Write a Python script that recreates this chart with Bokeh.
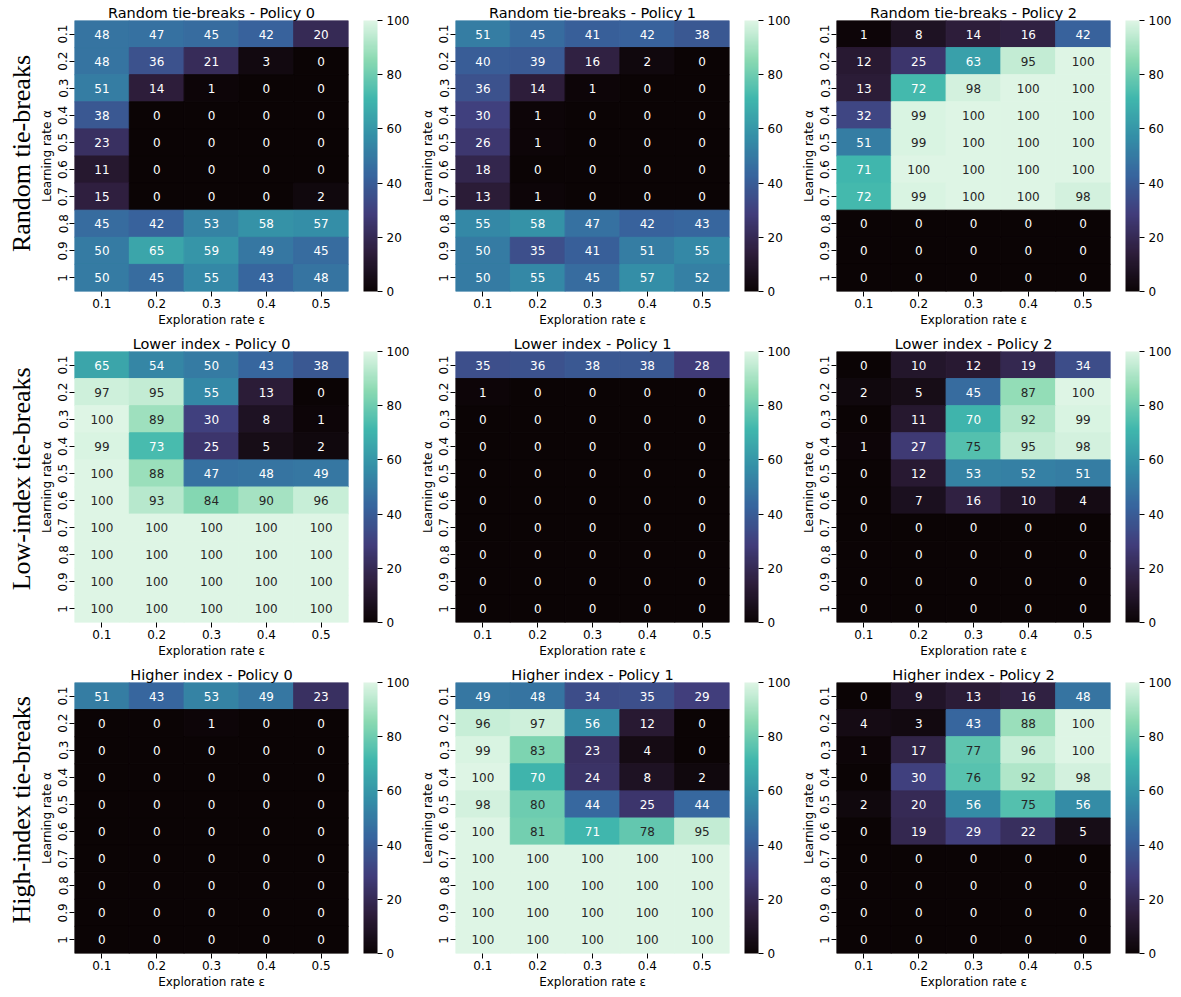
import math
from bokeh.plotting import figure
from bokeh.models import (ColumnDataSource, FactorRange, Range1d, LinearColorMapper,
                          ColorBar, FixedTicker)
from bokeh.layouts import row, column
from bokeh.embed import file_html
from bokeh.resources import INLINE
from bokeh.core.properties import value

# ---------------- data ----------------
eps_labels = ["0.1", "0.2", "0.3", "0.4", "0.5"]
alpha_labels = ["0.1", "0.2", "0.3", "0.4", "0.5", "0.6", "0.7", "0.8", "0.9", "1"]
row_labels = ["Random tie-breaks", "Low-index tie-breaks", "High-index tie-breaks"]
title_prefixes = ["Random tie-breaks", "Lower index", "Higher index"]
policy_names = ["Policy 0", "Policy 1", "Policy 2"]
cb_ticks = [0, 20, 40, 60, 80, 100]

random_p0 = [
    [48, 47, 45, 42, 20],
    [48, 36, 21, 3, 0],
    [51, 14, 1, 0, 0],
    [38, 0, 0, 0, 0],
    [23, 0, 0, 0, 0],
    [11, 0, 0, 0, 0],
    [15, 0, 0, 0, 2],
    [45, 42, 53, 58, 57],
    [50, 65, 59, 49, 45],
    [50, 45, 55, 43, 48],
]
random_p1 = [
    [51, 45, 41, 42, 38],
    [40, 39, 16, 2, 0],
    [36, 14, 1, 0, 0],
    [30, 1, 0, 0, 0],
    [26, 1, 0, 0, 0],
    [18, 0, 0, 0, 0],
    [13, 1, 0, 0, 0],
    [55, 58, 47, 42, 43],
    [50, 35, 41, 51, 55],
    [50, 55, 45, 57, 52],
]
random_p2 = [
    [1, 8, 14, 16, 42],
    [12, 25, 63, 95, 100],
    [13, 72, 98, 100, 100],
    [32, 99, 100, 100, 100],
    [51, 99, 100, 100, 100],
    [71, 100, 100, 100, 100],
    [72, 99, 100, 100, 98],
    [0, 0, 0, 0, 0],
    [0, 0, 0, 0, 0],
    [0, 0, 0, 0, 0],
]
lower_p0 = [
    [65, 54, 50, 43, 38],
    [97, 95, 55, 13, 0],
    [100, 89, 30, 8, 1],
    [99, 73, 25, 5, 2],
    [100, 88, 47, 48, 49],
    [100, 93, 84, 90, 96],
    [100, 100, 100, 100, 100],
    [100, 100, 100, 100, 100],
    [100, 100, 100, 100, 100],
    [100, 100, 100, 100, 100],
]
lower_p1 = [
    [35, 36, 38, 38, 28],
    [1, 0, 0, 0, 0],
    [0, 0, 0, 0, 0],
    [0, 0, 0, 0, 0],
    [0, 0, 0, 0, 0],
    [0, 0, 0, 0, 0],
    [0, 0, 0, 0, 0],
    [0, 0, 0, 0, 0],
    [0, 0, 0, 0, 0],
    [0, 0, 0, 0, 0],
]
lower_p2 = [
    [0, 10, 12, 19, 34],
    [2, 5, 45, 87, 100],
    [0, 11, 70, 92, 99],
    [1, 27, 75, 95, 98],
    [0, 12, 53, 52, 51],
    [0, 7, 16, 10, 4],
    [0, 0, 0, 0, 0],
    [0, 0, 0, 0, 0],
    [0, 0, 0, 0, 0],
    [0, 0, 0, 0, 0],
]
higher_p0 = [
    [51, 43, 53, 49, 23],
    [0, 0, 1, 0, 0],
    [0, 0, 0, 0, 0],
    [0, 0, 0, 0, 0],
    [0, 0, 0, 0, 0],
    [0, 0, 0, 0, 0],
    [0, 0, 0, 0, 0],
    [0, 0, 0, 0, 0],
    [0, 0, 0, 0, 0],
    [0, 0, 0, 0, 0],
]
higher_p1 = [
    [49, 48, 34, 35, 29],
    [96, 97, 56, 12, 0],
    [99, 83, 23, 4, 0],
    [100, 70, 24, 8, 2],
    [98, 80, 44, 25, 44],
    [100, 81, 71, 78, 95],
    [100, 100, 100, 100, 100],
    [100, 100, 100, 100, 100],
    [100, 100, 100, 100, 100],
    [100, 100, 100, 100, 100],
]
higher_p2 = [
    [0, 9, 13, 16, 48],
    [4, 3, 43, 88, 100],
    [1, 17, 77, 96, 100],
    [0, 30, 76, 92, 98],
    [2, 20, 56, 75, 56],
    [0, 19, 29, 22, 5],
    [0, 0, 0, 0, 0],
    [0, 0, 0, 0, 0],
    [0, 0, 0, 0, 0],
    [0, 0, 0, 0, 0],
]
grids = [
    [random_p0, random_p1, random_p2],
    [lower_p0, lower_p1, lower_p2],
    [higher_p0, higher_p1, higher_p2],
]

# ---------------- "mako" colormap ----------------
mako_anchor_hex = ["#0b0405", "#2e1e3c", "#413d7b", "#37659e", "#348fa7",
                   "#40b7ad", "#8bdab2", "#def5e5"]
anchor_pos = [i / (len(mako_anchor_hex) - 1) for i in range(len(mako_anchor_hex))]
anchor_rgb = [tuple(int(h[k:k + 2], 16) for k in (1, 3, 5)) for h in mako_anchor_hex]

def cmap_rgb(t):
    t = min(max(t, 0.0), 1.0)
    for i in range(len(anchor_pos) - 1):
        if t <= anchor_pos[i + 1]:
            f = (t - anchor_pos[i]) / (anchor_pos[i + 1] - anchor_pos[i])
            a, b = anchor_rgb[i], anchor_rgb[i + 1]
            return tuple(a[k] + (b[k] - a[k]) * f for k in range(3))
    return anchor_rgb[-1]

N = 256
palette_rgb = [cmap_rgb(i / (N - 1)) for i in range(N)]
palette = ["#%02x%02x%02x" % tuple(int(round(c)) for c in rgb) for rgb in palette_rgb]

def lum(rgb):
    out = []
    for c in rgb:
        c = c / 255.0
        out.append(c / 12.92 if c <= 0.03928 else ((c + 0.055) / 1.055) ** 2.4)
    return 0.2126 * out[0] + 0.7152 * out[1] + 0.0722 * out[2]

def text_color(v):
    idx = min(int(v / 100.0 * N), N - 1)
    return "#262626" if lum(palette_rgb[idx]) > 0.408 else "#ffffff"

FONT = "DejaVu Sans"
FRAME_W, FRAME_H = 274, 271
B_RIGHT, B_TOP, B_BOTTOM = 64, 20, 40
FIG_H = B_TOP + FRAME_H + B_BOTTOM
LABEL_W = 36
LABEL_SHIFT = [-7, 0, 0]


def make_heatmap(data, title, b_left):
    xs, ys, vals, txt, tcol = [], [], [], [], []
    for i, a in enumerate(alpha_labels):
        for j, e in enumerate(eps_labels):
            v = data[i][j]
            xs.append(e); ys.append(a); vals.append(v)
            txt.append(str(v)); tcol.append(text_color(v))
    src = ColumnDataSource(dict(x=xs, y=ys, v=vals, t=txt, c=tcol))
    mapper = LinearColorMapper(palette=palette, low=0, high=100)

    p = figure(width=b_left + FRAME_W + B_RIGHT, height=FIG_H,
               x_range=FactorRange(factors=eps_labels),
               y_range=FactorRange(factors=alpha_labels[::-1]),
               min_border_left=b_left, min_border_right=B_RIGHT,
               min_border_top=B_TOP, min_border_bottom=B_BOTTOM,
               output_backend="svg", toolbar_location=None, tools="")
    p.rect(x="x", y="y", width=1, height=1, source=src,
           fill_color={"field": "v", "transform": mapper},
           line_color={"field": "v", "transform": mapper}, line_width=1)
    p.text(x="x", y="y", text="t", source=src, text_color="c",
           text_align="center", text_baseline="middle",
           text_font=value(FONT), text_font_size="12px")

    p.title.text = title
    p.title.align = "center"
    p.title.text_font = FONT
    p.title.text_font_style = "normal"
    p.title.text_font_size = "14.5px"
    p.title.text_color = "#000000"
    p.title.standoff = 0

    p.outline_line_color = None
    p.grid.grid_line_color = None
    p.background_fill_color = "white"
    p.border_fill_color = "white"
    for ax in (p.xaxis, p.yaxis):
        ax.axis_line_color = None
        ax.major_tick_in = 0
        ax.major_tick_out = 5
        ax.major_tick_line_color = "#000000"
        ax.minor_tick_line_color = None
        ax.major_label_text_font = FONT
        ax.major_label_text_font_size = "12px"
        ax.major_label_text_color = "#000000"
        ax.major_label_standoff = 2
        ax.axis_label_text_font = FONT
        ax.axis_label_text_font_size = "12px"
        ax.axis_label_text_font_style = "normal"
        ax.axis_label_text_color = "#000000"
        ax.axis_label_standoff = 2
    p.yaxis.major_label_orientation = "vertical"
    p.xaxis.axis_label = "Exploration rate ε"
    p.yaxis.axis_label = "Learning rate α"

    cb = ColorBar(color_mapper=mapper, ticker=FixedTicker(ticks=cb_ticks),
                  width=14, height=FRAME_H, location=(15, 0),
                  margin=0, padding=0,
                  major_tick_in=0, major_tick_out=5,
                  major_tick_line_color="#000000",
                  minor_tick_line_color=None,
                  bar_line_color=None, border_line_color=None,
                  background_fill_color=None,
                  label_standoff=4,
                  major_label_text_font=FONT,
                  major_label_text_font_size="12px",
                  major_label_text_color="#000000")
    p.add_layout(cb, "right")
    return p


def make_row_label(text, shift):
    p = figure(width=LABEL_W, height=FIG_H,
               x_range=Range1d(0, LABEL_W), y_range=Range1d(0, FIG_H),
               x_axis_type=None, y_axis_type=None,
               min_border=0, min_border_left=0, min_border_right=0,
               min_border_top=0, min_border_bottom=0,
               output_backend="svg", toolbar_location=None, tools="")
    p.outline_line_color = None
    p.grid.grid_line_color = None
    src = ColumnDataSource(dict(x=[21.0], y=[B_BOTTOM + FRAME_H / 2.0 + shift], t=[text]))
    p.text(x="x", y="y", text="t", source=src, angle=math.pi / 2,
           text_align="center", text_baseline="middle",
           text_font=value("Liberation Serif"), text_font_size="26px",
           text_color="#000000")
    return p


rows = []
for r in range(3):
    children = [make_row_label(row_labels[r], LABEL_SHIFT[r])]
    for c in range(3):
        b_left = 38 if c == 0 else 43
        children.append(make_heatmap(grids[r][c], f"{title_prefixes[r]} - {policy_names[c]}", b_left))
    rows.append(row(*children))
layout = column(*rows)

open("out.html", "w").write(file_html(layout, INLINE))
